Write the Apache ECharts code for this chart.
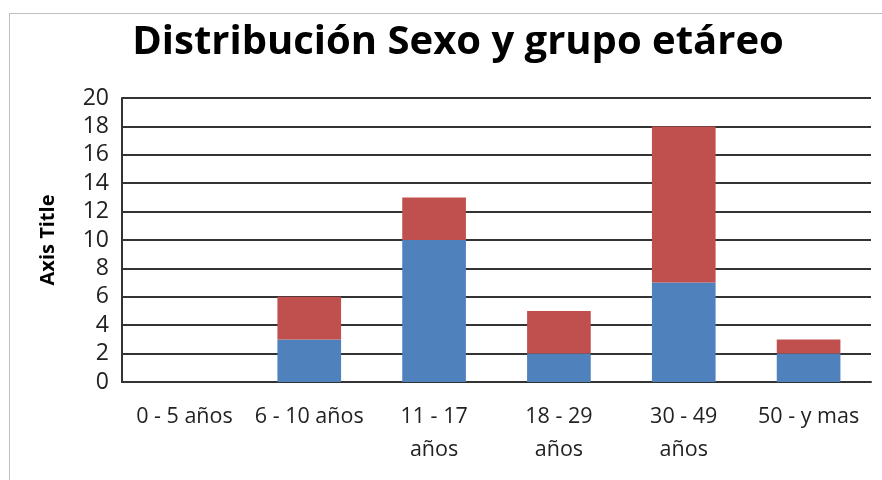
<!DOCTYPE html>
<html>
<head>
<meta charset="utf-8">
<script src="https://cdn.jsdelivr.net/npm/echarts@6/dist/echarts.min.js"></script>
<style>
  html, body { margin: 0; padding: 0; background: #fff; }
  #frame { position: absolute; left: 9px; top: 13px; width: 900px; height: 500px; border: 1px solid #bfbfbf; box-sizing: border-box; }
  #chart { position: absolute; left: 0; top: 0; width: 882px; height: 480px; }
</style>
</head>
<body>
<div id="frame"></div>
<div id="chart"></div>
<script>
const categories = ["0 - 5 años", "6 - 10 años", "11 - 17\naños", "18 - 29\naños", "30 - 49\naños", "50 - y mas"];
const blueValues = [0, 3, 10, 2, 7, 2];
const redValues = [0, 3, 3, 3, 11, 1];

const font = "'Open Sans', 'Noto Sans', sans-serif";
const chart = echarts.init(document.getElementById("chart"));

chart.setOption({
    animation: false,
    title: {
        text: "Distribución Sexo y grupo etáreo",
        left: 453,
        top: 18,
        textAlign: "center",
        textStyle: { fontFamily: font, fontSize: 40, fontWeight: "bold", color: "#000" }
    },
    grid: { left: 122, right: 11, top: 98, bottom: 98 },
    xAxis: {
        type: "category",
        data: categories,
        axisLine: { lineStyle: { color: "#333", width: 2 } },
        axisTick: { show: false },
        axisLabel: { fontFamily: font, fontSize: 21.5, color: "#222", margin: 18, lineHeight: 33, interval: 0 }
    },
    yAxis: {
        type: "value",
        min: 0,
        max: 20,
        interval: 2,
        name: "Axis Title",
        nameLocation: "middle",
        nameGap: 64,
        nameTextStyle: { fontFamily: font, fontSize: 20, fontWeight: "bold", color: "#000" },
        axisLine: { show: true, lineStyle: { color: "#333", width: 2 } },
        axisTick: { show: false },
        axisLabel: { fontFamily: font, fontSize: 23, color: "#222", margin: 13 },
        splitLine: { lineStyle: { color: "#333", width: 2 } }
    },
    series: [
        {
            type: "bar",
            stack: "total",
            data: blueValues,
            barWidth: "51%",
            itemStyle: { color: "#4F81BD" }
        },
        {
            type: "bar",
            stack: "total",
            data: redValues,
            barWidth: "51%",
            itemStyle: { color: "#C0504D" }
        }
    ]
});
</script>
</body>
</html>
